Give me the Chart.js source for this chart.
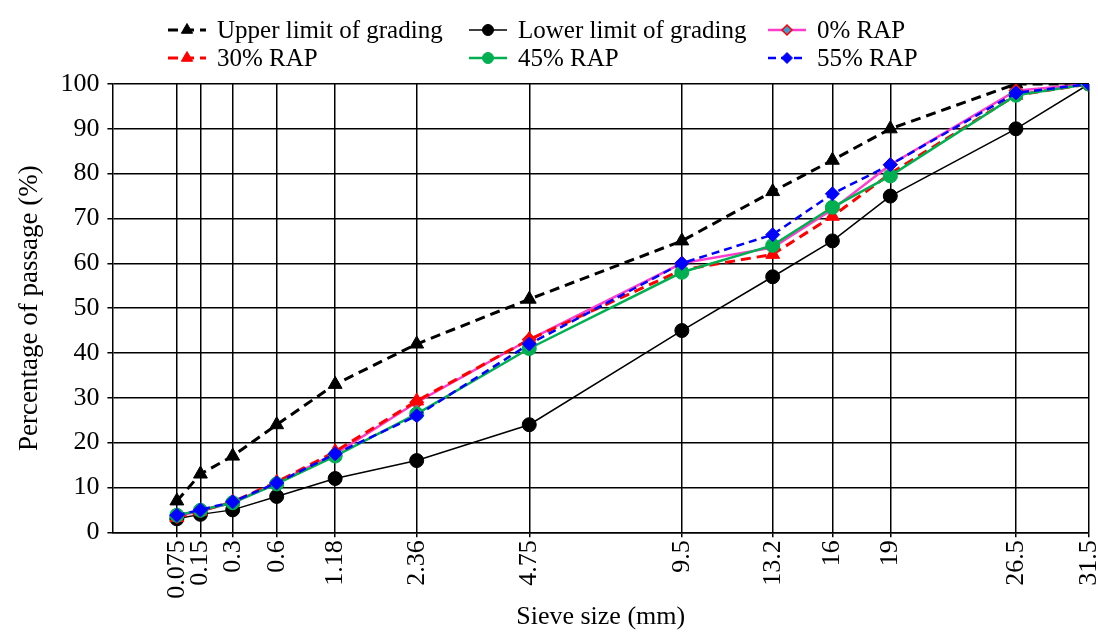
<!DOCTYPE html>
<html>
<head>
<meta charset="utf-8">
<script src="https://cdn.jsdelivr.net/npm/chart.js@4.4.0/dist/chart.umd.min.js"></script>
<style>
    html, body { margin: 0; padding: 0; background: #fff; overflow: hidden; }
    #wrap { width: 1098px; height: 633px; }
</style>
</head>
<body>
<div id="wrap"><canvas id="chart" width="1098" height="633"></canvas></div>
<script>
// sieve sizes in mm, plotted on a 0.45 power axis
const sieveSizes = [0.075, 0.15, 0.3, 0.6, 1.18, 2.36, 4.75, 9.5, 13.2, 16, 19, 26.5, 31.5];

const upperLimit = [7, 13, 17, 24, 33, 42, 52, 65, 76, 83, 90, 100, 100];
const lowerLimit = [3, 4, 5, 8, 12, 16, 24, 45, 57, 65, 75, 90, 100];
const rap0 = [3.5, 4.8, 6.6, 11, 17.5, 29, 43, 60, 63.5, 72, 82, 98.5, 100];
const rap30 = [3.3, 4.7, 6.8, 11.2, 18, 29.3, 43, 58.5, 62, 70.5, 80, 97.5, 100];
const rap45 = [3.8, 4.9, 6.6, 10.8, 17, 26.4, 41, 58, 64, 72.5, 79.5, 97.5, 100];
const rap55 = [3.8, 5, 6.8, 11, 17.5, 26, 42, 60, 66.4, 75.5, 82, 98, 100];

const POWER = 0.45;
const FONT = 'Liberation Serif, "Times New Roman", serif';

function toX(size) {
    return Math.pow(size, POWER);
}

function points(values) {
    return values.map((v, i) => ({ x: toX(sieveSizes[i]), y: v }));
}

function series(label, values, color, opts) {
    return Object.assign({
        label,
        data: points(values),
        borderColor: color,
        backgroundColor: color,
        pointBorderColor: color,
        pointBackgroundColor: color,
        borderWidth: 2.5,
        pointRadius: 6,
        pointBorderWidth: 1,
        tension: 0,
        fill: false,
    }, opts);
}

const datasets = [
    series('Upper limit of grading', upperLimit, '#000', { borderDash: [10, 6], borderWidth: 3, pointStyle: 'triangle', pointRadius: 8, order: 5 }),
    series('Lower limit of grading', lowerLimit, '#000', { borderWidth: 1.5, pointStyle: 'circle', pointRadius: 7, order: 4 }),
    series('0% RAP', rap0, '#FF3DCC', { pointStyle: 'rectRot', pointBorderColor: '#FF0000', pointBackgroundColor: '#3D9FD0', pointBorderWidth: 1.5, pointRadius: 6.5, order: 3 }),
    series('30% RAP', rap30, '#FF0000', { borderDash: [10, 6], borderWidth: 3, pointStyle: 'triangle', pointRadius: 8, order: 2 }),
    series('45% RAP', rap45, '#00B050', { pointStyle: 'circle', pointRadius: 7, order: 1 }),
    series('55% RAP', rap55, '#0000FF', { borderDash: [8, 5], pointStyle: 'rectRot', pointRadius: 7, order: 0 }),
];

// legend slots: [dataset index, sample left, row centre]
const legendSlots = [
    [0, 168, 30], [1, 469, 30], [2, 768, 30],
    [3, 168, 58], [4, 469, 58], [5, 768, 58],
];

const legendPlugin = {
    id: 'gridLegend',
    afterDraw(chart) {
        const ctx = chart.ctx;
        ctx.save();
        ctx.font = '25px ' + FONT;
        ctx.textBaseline = 'middle';
        for (const [idx, x, y] of legendSlots) {
            const ds = chart.data.datasets[idx];
            ctx.strokeStyle = ds.borderColor;
            ctx.lineWidth = ds.borderWidth;
            ctx.setLineDash(ds.borderDash || []);
            ctx.beginPath();
            ctx.moveTo(x, y);
            ctx.lineTo(x + 38, y);
            ctx.stroke();
            ctx.setLineDash([]);
            ctx.fillStyle = ds.pointBackgroundColor;
            ctx.strokeStyle = ds.pointBorderColor;
            ctx.lineWidth = ds.pointBorderWidth;
            Chart.helpers.drawPoint(ctx, {
                pointStyle: ds.pointStyle,
                rotation: 0,
                radius: ds.pointRadius - 1.5,
                borderWidth: ds.pointBorderWidth,
            }, x + 19, y);
            ctx.fillStyle = '#000';
            ctx.fillText(ds.label, x + 49, y + 1);
        }
        ctx.restore();
    }
};

new Chart(document.getElementById('chart').getContext('2d'), {
    type: 'line',
    data: { datasets },
    options: {
        responsive: false,
        animation: false,
        layout: { padding: { top: 84, left: 14, right: 8, bottom: 0 } },
        plugins: {
            legend: { display: false },
            tooltip: { enabled: false },
        },
        scales: {
            x: {
                type: 'linear',
                min: 0,
                max: toX(31.5),
                afterBuildTicks: (axis) => {
                    axis.ticks = sieveSizes.map(s => ({ value: toX(s) }));
                },
                afterFit: (axis) => {
                    // let the last label run off the edge like the original
                    axis.paddingLeft = 0;
                    axis.paddingRight = 0;
                },
                ticks: {
                    autoSkip: false,
                    maxRotation: 90,
                    minRotation: 90,
                    padding: 3,
                    color: '#000',
                    font: { family: FONT, size: 26 },
                    callback: (value, index) => String(sieveSizes[index]),
                },
                grid: { color: '#000', lineWidth: 1.5, tickLength: 5 },
                border: { color: '#000', width: 1.5 },
                title: {
                    display: true,
                    text: 'Sieve size (mm)',
                    color: '#000',
                    font: { family: FONT, size: 26 },
                    padding: { top: 0, bottom: 0 },
                },
            },
            y: {
                min: 0,
                max: 100,
                ticks: {
                    stepSize: 10,
                    padding: 8,
                    color: '#000',
                    font: { family: FONT, size: 26 },
                },
                grid: { color: '#000', lineWidth: 1.5, tickLength: 5 },
                border: { color: '#000', width: 1.5 },
                title: {
                    display: true,
                    text: 'Percentage of passage (%)',
                    color: '#000',
                    font: { family: FONT, size: 27 },
                    padding: { top: 0, bottom: 6 },
                },
            },
        },
    },
    plugins: [legendPlugin],
});
</script>
</body>
</html>
